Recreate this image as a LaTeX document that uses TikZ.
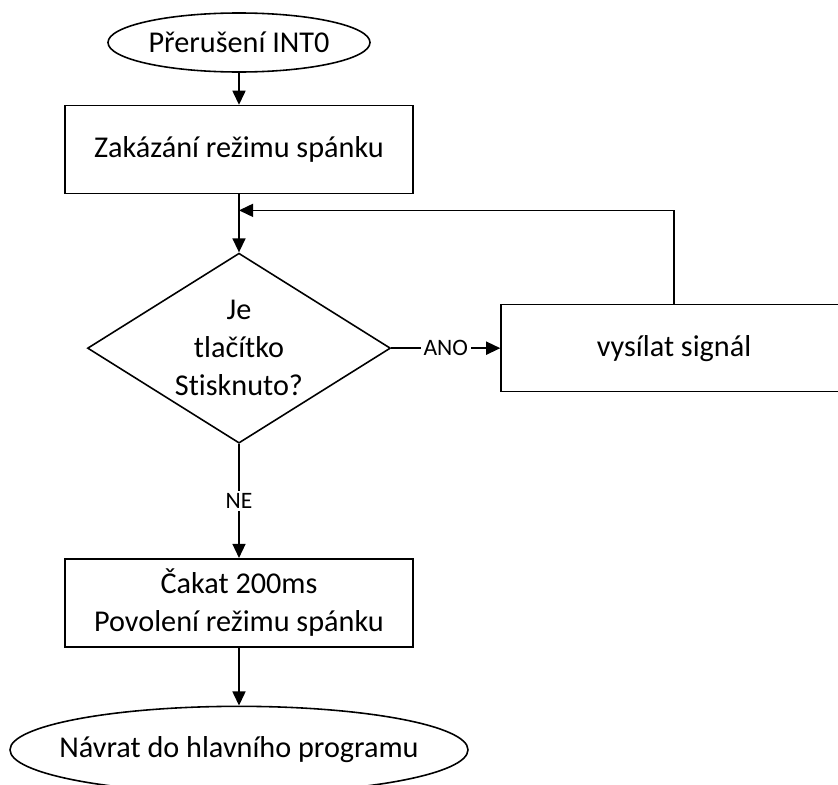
\documentclass[tikz,border=0pt]{standalone}
\usepackage{fontspec}
\setmainfont{Carlito}[Ligatures=NoCommon]
\RequirePackage{xcolor}
\definecolor{flowline}{RGB}{0,0,0}
\tikzset{every picture/.style={/utils/exec={\fontsize{17.2}{21.5}\selectfont}}}
\usetikzlibrary{positioning}
\usetikzlibrary{shapes.geometric,arrows.meta}
\tikzset{
  terminal/.style={ellipse, draw=flowline, line width=0.9pt},
  stepbox/.style={draw=flowline, line width=0.9pt, align=center},
  decision/.style={diamond, draw=flowline, line width=0.9pt, aspect=1.6, inner sep=0pt, align=center},
  flow/.style={-{Triangle[length=8pt,width=7.4pt]}, line width=0.9pt, draw=flowline},
  answer/.style={fill=white, inner sep=1.5pt, font=\fontsize{13.4}{16}\selectfont}
}

\begin{document}
\begin{tikzpicture}
  \path[use as bounding box, clip] (0,0) rectangle (16.76,-15.7);

  \node[terminal, minimum width=5.24cm, minimum height=1.18cm, label=center:Přerušení INT0] (int0) at (4.78,-0.85) {};
  \node[stepbox, minimum width=6.96cm, minimum height=1.76cm, below=0.64cm of int0] (sleepoff) {Zakázání režimu spánku};
  \node[decision, minimum width=6.06cm, minimum height=3.8cm, below=1.16cm of sleepoff] (button) {Je\\tlačítko\\Stisknuto?};
  \node[stepbox, minimum width=6.92cm, minimum height=1.74cm, right=2.18cm of button] (signal) {vysílat signál};
  \node[stepbox, minimum width=6.96cm, minimum height=1.76cm, below=2.28cm of button] (wait) {Čakat 200ms\\Povolení režimu spánku};
  \node[terminal, minimum width=9.16cm, minimum height=1.74cm, below=1.16cm of wait, label=center:Návrat do hlavního programu] (return) {};

  % loop comes back just under the first box
  \coordinate[below=0.32cm of sleepoff.south] (loop);

  \draw[flow] (int0) -- (sleepoff);
  \draw[flow] (sleepoff) -- (button);
  \draw[flow] (button) -- node[answer] {ANO} (signal);
  \draw[flow] (signal.north) |- (loop);
  \draw[flow] (button) -- node[answer] {NE} (wait);
  \draw[flow] (wait) -- (return);

\end{tikzpicture}
\end{document}
